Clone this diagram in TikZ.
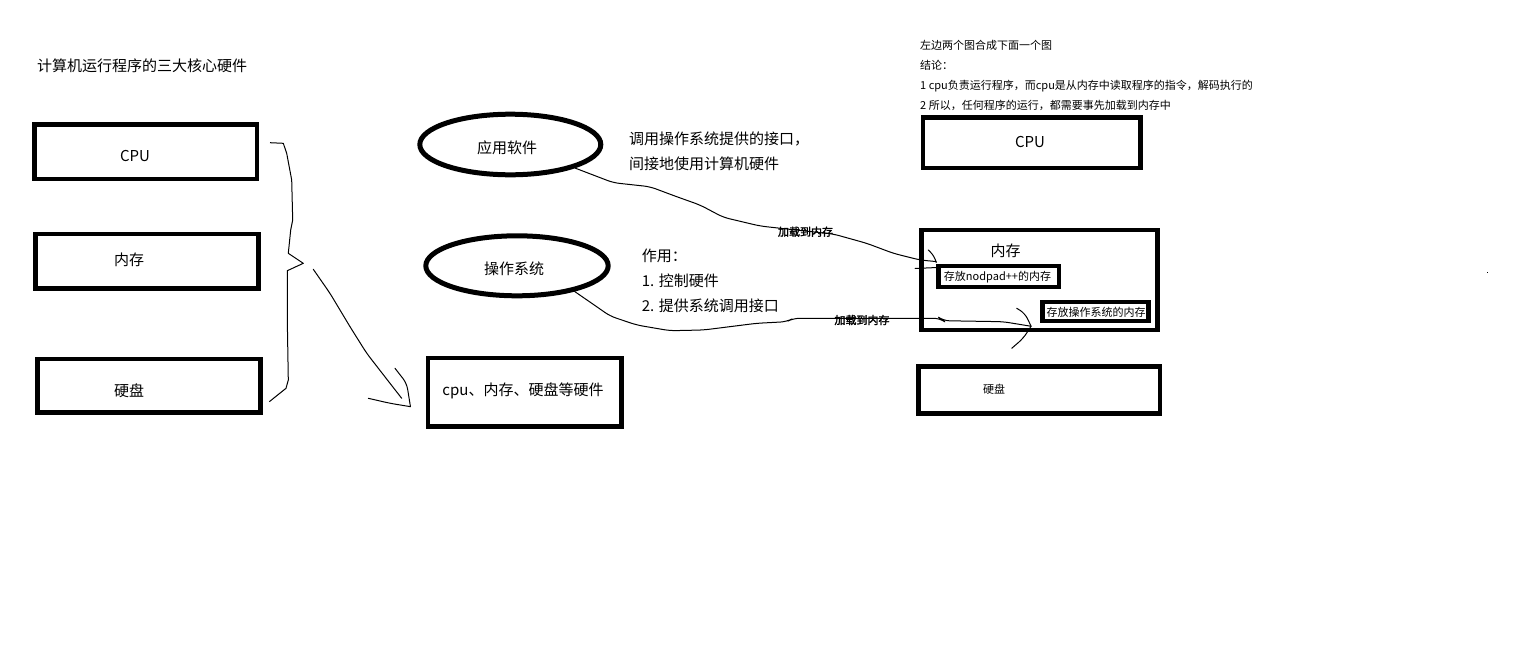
\documentclass[tikz,border=0pt]{standalone}
\usepackage{fontspec}
\setmainfont{Noto Sans CJK SC}
\newfontfamily\cjkbold[FakeBold=2]{Noto Sans CJK SC}
\usetikzlibrary{shapes.geometric}
\tikzset{
  box/.style={draw, rectangle, line width=4.5pt, inner sep=0pt},
  ell/.style={draw, ellipse, line width=5pt, inner sep=0pt},
  lbl/.style={inner sep=0pt, font=\fontsize{15}{18}\selectfont},
  small/.style={inner sep=0pt, font=\fontsize{11}{13}\selectfont},
  blbl/.style={inner sep=0pt, font=\cjkbold\fontsize{11}{13}\selectfont},
  wire/.style={line width=1pt, rounded corners=6pt, line join=round, line cap=round},
}
\begin{document}
\begin{tikzpicture}[x=1pt, y=-1pt]
\fill[white] (0,0) rectangle (1529,662);
\useasboundingbox (0,0) rectangle (1529,662);

% title
\node[lbl, anchor=west] (title) at (37,66) {计算机运行程序的三大核心硬件};

% left boxes
\node[box, minimum width=222.5pt, minimum height=54.5pt] (cpuL) at (145.75,151.75) {};
\node[lbl] (cpuLt) at (135,156) {CPU};
\node[box, minimum width=222.8pt, minimum height=54.3pt] (memL) at (146.9,261.15) {};
\node[lbl] (memLt) at (129,259.5) {内存};
\node[box, minimum width=222.8pt, minimum height=53.7pt] (hddL) at (149.1,385.65) {};
\node[lbl] (hddLt) at (129,390.5) {硬盘};

% brace
\coordinate (b1) at (270,142.7);
\coordinate (b2) at (269.3,401.7);
\coordinate (bt) at (313.3,269.3);
\draw[line width=1pt, line join=round] (b1) -- (283.3,143.3) -- (286.7,153.3) -- (291.7,180) -- (292.7,220) -- (290.7,230) -- (288.3,253.3) -- (303.3,263.3) -- (287.3,270.7) -- (287.3,320) -- (288.3,380) -- (286,388.3) -- (b2);

% middle
\node[ell, minimum width=181pt, minimum height=60.6pt] (app) at (510.3,144.5) {};
\node[lbl] (appt) at (507,148) {应用软件};
\node[ell, minimum width=182.4pt, minimum height=60pt] (os) at (517,265.8) {};
\node[lbl] (ost) at (514,269) {操作系统};
\node[box, minimum width=193.7pt, minimum height=68.7pt] (hw) at (524.85,392.35) {};
\node[lbl] (hwt) at (523,390.5) {cpu、内存、硬盘等硬件};

% arrow from brace to hardware
\coordinate (hwtip) at ([shift={(-15.3,14.3)}]hw.west);
\draw[wire] (bt) -- (330,293.3) -- (350,326.7) -- (366.7,353.3) -- (390,383.3) -- (401.7,398.3);
\draw[wire] (395,368.3) -- (406.7,383.3) -- (hwtip);
\draw[wire] (368.3,398.3) -- (390,403.3) -- (hwtip);

\node[lbl, anchor=west, align=left, font=\fontsize{15}{25}\selectfont] (apptxt) at (629,151.5) {调用操作系统提供的接口，\\间接地使用计算机硬件};
\node[lbl, anchor=west, align=left, font=\fontsize{15}{25}\selectfont] (ostxt) at (641.7,280.5) {作用：\\1. 控制硬件\\2. 提供系统调用接口};

% right side
\node[small, anchor=west, align=left, font=\fontsize{11}{20}\selectfont] (notes) at (920,75.5) {左边两个图合成下面一个图\\结论：\\1 cpu负责运行程序，而cpu是从内存中读取程序的指令，解码执行的\\2 所以，任何程序的运行，都需要事先加载到内存中};

\node[box, minimum width=217.5pt, minimum height=50.7pt] (cpuR) at (1031.75,142.65) {};
\node[lbl] (cpuRt) at (1030,141.5) {CPU};
\node[box, minimum width=236pt, minimum height=100pt] (memR) at (1039.7,280) {};
\node[lbl] (memRt) at (1005.7,251) {内存};
\node[box, fill=white, minimum width=120.7pt, minimum height=21.4pt] (nodpad) at (998.65,276.5) {};
\node[small] (nodpadt) at (997.5,277) {存放nodpad++的内存};
\node[box, fill=white, minimum width=105.8pt, minimum height=19.2pt] (osmem) at (1095.4,311.4) {};
\node[small] (osmemt) at (1096,312) {存放操作系统的内存};
\node[box, minimum width=241.5pt, minimum height=46.8pt] (hddR) at (1039.25,389.9) {};
\node[small] (hddRt) at (994,389.3) {硬盘};

% connector: app -> nodpad
\coordinate (np) at ([shift={(0,-2)}]nodpad.north west);
\draw[wire] (app.-20) -- (613.3,182.7) -- (650,186.7) -- (676.7,196.7) -- (700,205) -- (723.3,217.3) -- (760,226) -- (805,231) -- (833.3,234) -- (866.7,243.3) -- (893.3,253.3) -- (920,260) -- (np);
\draw[wire] (928.3,250) -- (935,256.7) -- (np);
\draw[wire] (915,268.5) -- (937,267.5);
\node[blbl] (l1) at (805.5,231.7) {加载到内存};

% connector: os -> osmem
\coordinate (om) at ([shift={(-9.2,3)}]osmem.south west);
\draw[wire] (os.-24) -- (596.7,306.7) -- (610,316) -- (636.7,325) -- (670,330.7) -- (703.3,330) -- (756.7,323.3) -- (786.7,321.7) -- (793.3,318.3) -- (940,318.3) -- (943.3,320.7) -- (1003.3,321.7) -- (om);
\draw[wire] (1016.7,308.3) -- (1025,313.3) -- (om);
\draw[wire] (1011.7,348.3) -- (1023.3,338.3) -- (om);
\node[blbl] (l2) at (862,320) {加载到内存};

% stray dot
\fill (1486.8,272.2) rectangle (1488,273.4);
\end{tikzpicture}
\end{document}
